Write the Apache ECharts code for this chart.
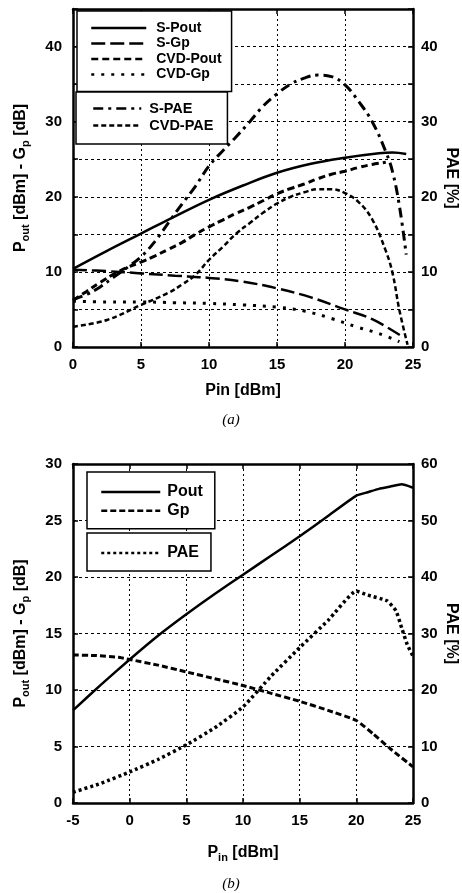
<!DOCTYPE html>
<html>
<head>
<meta charset="utf-8">
<script src="https://cdn.jsdelivr.net/npm/echarts@6/dist/echarts.min.js"></script>
<style>
  html, body { margin: 0; padding: 0; background: #fff; }
  #main { width: 462px; height: 893px; }
</style>
</head>
<body>
<div id="main"></div>
<script>
  // (a) Pin [dBm] -> value
  var sPout = [[0, 10.4], [2.5, 12.8], [5, 15.1], [7.5, 17.4], [10, 19.6], [12.5, 21.5], [15, 23.2],
    [17.5, 24.4], [20, 25.2], [22.5, 25.8], [23.5, 25.9], [24.5, 25.7]];
  var sGp = [[0, 10.3], [2.5, 10.1], [5, 9.8], [7.5, 9.5], [10, 9.2], [12.5, 8.7], [15, 7.8],
    [17.5, 6.6], [20, 5.0], [22, 3.7], [24.2, 1.4]];
  var cvdPout = [[0, 6.2], [1, 7.4], [2, 8.6], [3, 9.7], [4, 10.6], [5, 11.3], [6, 12.1], [7, 13.0],
    [8, 13.9], [9, 15.0], [10, 16.0], [11, 16.9], [12, 17.8], [13, 18.6], [14, 19.5], [15, 20.4],
    [16, 21.1], [17, 21.7], [18, 22.4], [19, 23.0], [20, 23.4], [21, 23.9], [22, 24.3], [23, 24.6]];
  var cvdGp = [[0, 6.1], [2.5, 6.0], [5, 6.0], [7.5, 5.9], [10, 5.8], [12.5, 5.6], [15, 5.3],
    [17, 4.8], [19, 3.8], [21, 2.6], [22.5, 1.8], [24, 0.7]];
  var sPae = [[0, 6.3], [1, 7.0], [2, 8.0], [3, 9.3], [4, 10.6], [5, 12.0], [6, 14.0], [7, 16.5],
    [8, 19.0], [9, 21.4], [10, 24.1], [11, 26.1], [12, 28.0], [13, 30.0], [14, 32.1], [15, 33.7],
    [16, 35.0], [17, 35.8], [18, 36.2], [19, 36.0], [20, 34.9], [21, 32.7], [22, 30.0], [23, 26.0],
    [23.5, 23.3], [24, 18.8], [24.5, 12.3]];
  var cvdPae = [[0, 2.7], [2.5, 3.6], [5, 5.6], [7, 7.2], [8, 8.3], [9, 9.6], [10, 11.6], [11, 13.3],
    [12, 15.1], [13, 16.5], [14, 17.9], [15, 19.1], [16, 20.0], [17, 20.6], [18, 21.0], [19, 21.0],
    [20, 20.5], [21, 19.3], [22, 17.0], [23, 12.8], [23.5, 9.8], [24, 4.9], [24.6, 0.3]];

  // (b)
  var bPout = [[-5, 8.2], [-2.5, 10.5], [0, 12.7], [2.5, 14.8], [5, 16.7], [7.5, 18.5], [10, 20.2],
    [12.5, 21.9], [15, 23.6], [17.5, 25.4], [20, 27.2], [21, 27.5], [22, 27.8], [23, 28.0], [24, 28.2], [25, 27.9]];
  var bGp = [[-5, 13.1], [-3, 13.05], [-1, 12.9], [0, 12.7], [2.5, 12.2], [5, 11.6], [7.5, 11.0],
    [10, 10.4], [12.5, 9.7], [15, 9.0], [17.5, 8.2], [20, 7.3], [21.5, 6.1], [23, 4.8], [25, 3.2]];
  var bPae = [[-5, 1.9], [-2.5, 3.5], [0, 5.5], [2.5, 7.7], [5, 10.3], [7.5, 13.3], [10, 17.0],
    [12.5, 22.5], [15, 27.5], [17.5, 32.3], [20, 37.5], [21, 36.8], [22.7, 35.8], [23.5, 34.0],
    [24, 31.0], [24.5, 28.0], [25, 26.0]];

  var namesA1 = ['S-Pout', 'S-Gp', 'CVD-Pout', 'CVD-Gp'];
  var namesA2 = ['S-PAE', 'CVD-PAE'];
  var namesB1 = ['Pout', 'Gp'];
  var namesB2 = ['PAE'];

  var FONT = 'Liberation Sans, Arial, sans-serif';
  var chart = echarts.init(document.getElementById('main'));

  var rich = {
    a: {fontFamily: FONT, fontWeight: 'bold', fontSize: 16, color: '#000', lineHeight: 20, verticalAlign: 'middle'},
    s: {fontFamily: FONT, fontWeight: 'bold', fontSize: 11, color: '#000', lineHeight: 11, padding: [10, 0, 0, 0], verticalAlign: 'bottom'}
  };
  var nameStyle = {fontFamily: FONT, fontWeight: 'bold', fontSize: 16, color: '#000', rich: rich};
  var labelStyle = {fontFamily: FONT, fontWeight: 'bold', fontSize: 15, color: '#000'};
  var frame = {show: true, onZero: false, lineStyle: {color: '#000', width: 2.5}};
  var tick = {show: true, inside: true, length: 5, lineStyle: {color: '#000', width: 1.5}};

  function tens(v) {
    return v % 10 === 0 ? v : '';
  }

  function legendBox(names, left, top, opt) {
    return Object.assign({
      data: names,
      orient: 'vertical',
      left: left,
      top: top,
      selectedMode: false,
      backgroundColor: '#fff',
      borderColor: '#000',
      borderWidth: 1.5,
      borderRadius: 0,
      itemWidth: 55,
      itemHeight: 14,
      itemGap: 1.5,
      itemStyle: {opacity: 0},
      lineStyle: {width: 2.5},
      textStyle: {fontFamily: FONT, fontWeight: 'bold', fontSize: 14, color: '#000', padding: [0, 0, 0, 5]}
    }, opt);
  }

  function line(name, data, x, y, width, dash, smooth) {
    return {
      name: name,
      type: 'line',
      xAxisIndex: x,
      yAxisIndex: y,
      data: data,
      symbol: 'none',
      smooth: smooth,
      lineStyle: {color: '#000', width: width, type: dash || 'solid'},
      itemStyle: {color: '#000'},
      animation: false
    };
  }

  chart.setOption({
    animation: false,
    title: [
      {text: '(a)', left: 'center', top: 408,
        textStyle: {fontFamily: 'Liberation Serif', fontStyle: 'italic', fontWeight: 'normal', fontSize: 15, color: '#000'}},
      {text: '(b)', left: 'center', top: 872,
        textStyle: {fontFamily: 'Liberation Serif', fontStyle: 'italic', fontWeight: 'normal', fontSize: 15, color: '#000'}}
    ],
    grid: [
      {left: 73, top: 9, width: 340, height: 338, outerBoundsMode: 'none'},
      {left: 73, top: 464, width: 340, height: 339, outerBoundsMode: 'none'}
    ],
    legend: [
      legendBox(namesA1, 77, 11, {padding: [10, 10, 10, 13]}),
      legendBox(namesA2, 76, 92, {padding: [9, 14, 11, 16], itemWidth: 48, itemGap: 2,
        textStyle: {fontFamily: FONT, fontWeight: 'bold', fontSize: 14.5, color: '#000', padding: [0, 0, 0, 3]}}),
      legendBox(namesB1, 87, 472, {padding: [12, 12, 10, 13], itemWidth: 59, itemHeight: 16, itemGap: 2.7,
        textStyle: {fontFamily: FONT, fontWeight: 'bold', fontSize: 16, color: '#000', padding: [0, 0, 0, 2]}}),
      legendBox(namesB2, 87, 533, {padding: [12, 12, 10, 13], itemWidth: 59, itemHeight: 16,
        textStyle: {fontFamily: FONT, fontWeight: 'bold', fontSize: 16, color: '#000', padding: [0, 0, 0, 2]}})
    ],
    xAxis: [
      {
        gridIndex: 0, type: 'value', min: 0, max: 25, interval: 5, position: 'bottom',
        name: 'Pin [dBm]', nameLocation: 'middle', nameGap: 36, nameMoveOverlap: false,
        nameTextStyle: nameStyle,
        axisLine: frame, axisTick: tick,
        axisLabel: Object.assign({margin: 10}, labelStyle),
        splitLine: {show: true, lineStyle: {color: '#000', width: 1, type: [2, 3]}}
      },
      {
        gridIndex: 0, type: 'value', min: 0, max: 25, interval: 5, position: 'top',
        axisLine: frame, axisTick: tick, axisLabel: {show: false}, splitLine: {show: false}
      },
      {
        gridIndex: 1, type: 'value', min: -5, max: 25, interval: 5, position: 'bottom',
        name: '{a|P}{s|in}{a| [dBm]}', nameLocation: 'middle', nameGap: 40, nameMoveOverlap: false,
        nameTextStyle: nameStyle,
        axisLine: frame, axisTick: tick,
        axisLabel: Object.assign({margin: 10}, labelStyle),
        splitLine: {show: true, lineStyle: {color: '#000', width: 1, type: [2, 3]}}
      },
      {
        gridIndex: 1, type: 'value', min: -5, max: 25, interval: 5, position: 'top',
        axisLine: frame, axisTick: tick, axisLabel: {show: false}, splitLine: {show: false}
      }
    ],
    yAxis: [
      {
        gridIndex: 0, type: 'value', min: 0, max: 45, interval: 5, position: 'left',
        name: '{a|P}{s|out}{a| [dBm] - G}{s|p}{a| [dB]}', nameLocation: 'middle', nameGap: 42, nameRotate: 90,
        nameMoveOverlap: false, nameTextStyle: nameStyle,
        axisLine: frame, axisTick: tick,
        axisLabel: Object.assign({margin: 11, formatter: tens}, labelStyle),
        splitLine: {show: true, lineStyle: {color: '#000', width: 1, type: [3, 3]}}
      },
      {
        gridIndex: 0, type: 'value', min: 0, max: 45, interval: 5, position: 'right',
        name: 'PAE [%]', nameLocation: 'middle', nameGap: 30, nameRotate: -90,
        nameMoveOverlap: false, nameTextStyle: nameStyle,
        axisLine: frame, axisTick: tick,
        axisLabel: Object.assign({margin: 8, formatter: tens}, labelStyle),
        splitLine: {show: false}
      },
      {
        gridIndex: 1, type: 'value', min: 0, max: 30, interval: 5, position: 'left',
        name: '{a|P}{s|out}{a| [dBm] - G}{s|p}{a| [dB]}', nameLocation: 'middle', nameGap: 42, nameRotate: 90,
        nameMoveOverlap: false, nameTextStyle: nameStyle,
        axisLine: frame, axisTick: tick,
        axisLabel: Object.assign({margin: 11}, labelStyle),
        splitLine: {show: true, lineStyle: {color: '#000', width: 1, type: [3, 3]}}
      },
      {
        gridIndex: 1, type: 'value', min: 0, max: 60, interval: 10, position: 'right',
        name: 'PAE [%]', nameLocation: 'middle', nameGap: 30, nameRotate: -90,
        nameMoveOverlap: false, nameTextStyle: nameStyle,
        axisLine: frame, axisTick: tick,
        axisLabel: Object.assign({margin: 8}, labelStyle),
        splitLine: {show: false}
      }
    ],
    series: [
      line('S-Pout', sPout, 0, 0, 2.5, 'solid', 0.4),
      line('S-Gp', sGp, 0, 0, 2.5, [14, 5], 0.4),
      line('CVD-Pout', cvdPout, 0, 0, 3, [7, 4], 0.4),
      line('CVD-Gp', cvdGp, 0, 0, 3, [3, 7], 0.4),
      line('S-PAE', sPae, 0, 1, 3, [10, 5, 3, 5], 0.4),
      line('CVD-PAE', cvdPae, 0, 1, 2.5, [5, 3], 0.4),
      line('Pout', bPout, 2, 2, 2.5, 'solid', 0.15),
      line('Gp', bGp, 2, 2, 3, [6, 3], 0.15),
      line('PAE', bPae, 2, 3, 3.5, [3, 3], 0.15)
    ]
  });
</script>
</body>
</html>
